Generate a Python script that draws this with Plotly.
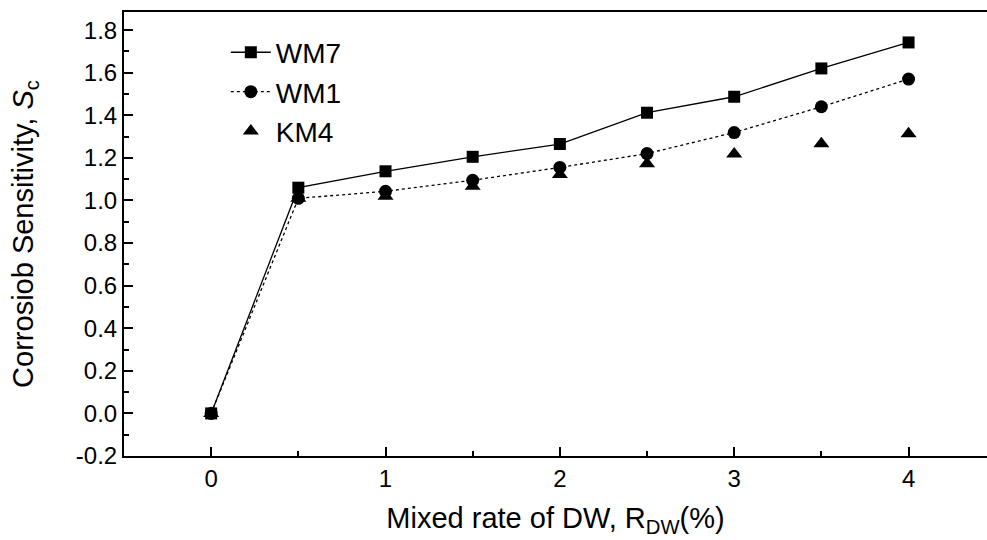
import plotly.graph_objects as go

x_vals = [0, 0.5, 1, 1.5, 2, 2.5, 3, 3.5, 4]
wm7 = [0.0, 1.06, 1.137, 1.205, 1.265, 1.412, 1.487, 1.62, 1.742]
wm1 = [0.0, 1.01, 1.043, 1.095, 1.155, 1.22, 1.319, 1.44, 1.57]
km4 = [0.0, 1.01, 1.02, 1.067, 1.122, 1.172, 1.218, 1.266, 1.313]

fig = go.Figure()
fig.add_trace(go.Scatter(x=x_vals, y=wm7, name="WM7", mode="lines+markers",
                         line=dict(color="black", width=1.3),
                         marker=dict(symbol="square", size=12, color="black")))
fig.add_trace(go.Scatter(x=x_vals, y=wm1, name="WM1", mode="lines+markers",
                         line=dict(color="black", width=1.3, dash="dot"),
                         marker=dict(symbol="circle", size=13, color="black")))
fig.add_trace(go.Scatter(x=x_vals, y=km4, name="KM4", mode="markers",
                         marker=dict(symbol="triangle-up", size=14, color="black")))

font = "Liberation Sans, Arial, sans-serif"
fig.update_layout(
    width=987, height=540,
    margin=dict(l=124, r=0, t=12, b=84),
    paper_bgcolor="white", plot_bgcolor="white",
    font=dict(family=font, color="black"),
    showlegend=True,
    legend=dict(x=0.118, y=0.965, xanchor="left", yanchor="top",
                font=dict(size=28, family=font), bgcolor="rgba(0,0,0,0)",
                itemwidth=40, tracegroupgap=0),
    xaxis=dict(range=[-0.5, 4.45], tickvals=[0, 1, 2, 3, 4],
               ticks="inside", ticklen=9, tickwidth=1.5, tickcolor="black",
               minor=dict(tickvals=[0.5, 1.5, 2.5, 3.5], ticks="inside", ticklen=5, tickwidth=1.5, tickcolor="black"),
               showline=True, linecolor="black", linewidth=2, mirror=True,
               showgrid=False, zeroline=False,
               tickfont=dict(size=24, family=font, color="black"),
               title=dict(text="Mixed rate of DW, R<sub>DW</sub>(%)", font=dict(size=29, family=font), standoff=17)),
    yaxis=dict(range=[-0.2, 1.885], tickvals=[-0.2, 0, 0.2, 0.4, 0.6, 0.8, 1.0, 1.2, 1.4, 1.6, 1.8],
               ticktext=["-0.2", "0.0", "0.2", "0.4", "0.6", "0.8", "1.0", "1.2", "1.4", "1.6", "1.8"],
               ticks="inside", ticklen=9, tickwidth=1.5, tickcolor="black",
               minor=dict(dtick=0.1, tick0=-0.1, ticks="inside", ticklen=5, tickwidth=1.5, tickcolor="black"),
               showline=True, linecolor="black", linewidth=2,
               showgrid=False, zeroline=False,
               tickfont=dict(size=24, family=font, color="black"),
               title=dict(text="Corrosiob Sensitivity, <i>S</i><sub>c</sub>", font=dict(size=29, family=font), standoff=34)),
)

fig.write_html("out.html")
